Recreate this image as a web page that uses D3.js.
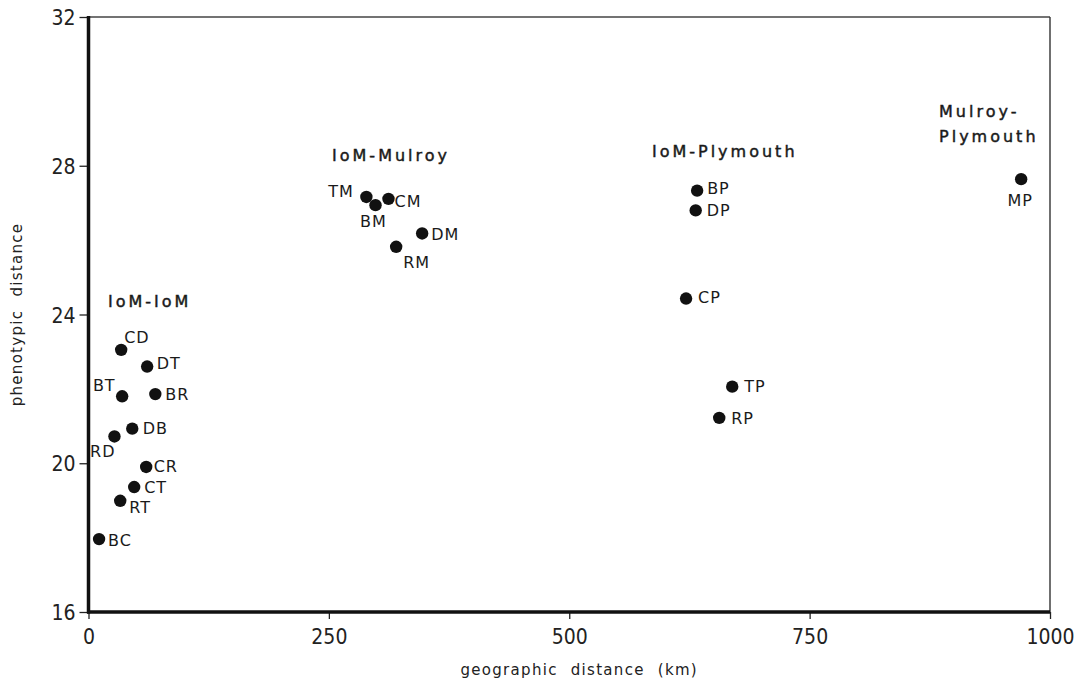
<!DOCTYPE html>
<html>
<head>
<meta charset="utf-8">
<script src="https://cdn.jsdelivr.net/npm/d3@7"></script>
<style>
  html, body { margin: 0; padding: 0; background: #fff; }
  svg { display: block; }
</style>
</head>
<body>
<svg id="chart" width="1078" height="684"></svg>
<script>
// ---- data ----
const pairNames = ["CD","DT","BT","BR","DB","RD","CR","CT","RT","BC",
                   "TM","BM","CM","DM","RM",
                   "BP","DP","CP","TP","RP",
                   "MP"];
const geoDistance = [34, 61, 35, 69.5, 45.5, 27, 60, 47.5, 33, 11,
                     289, 298.5, 312, 347, 320,
                     633, 631.5, 621.5, 669.5, 656,
                     970];
const phenoDistance = [23.05, 22.6, 21.8, 21.86, 20.93, 20.72, 19.9, 19.36, 18.99, 17.96,
                       27.16, 26.94, 27.11, 26.18, 25.82,
                       27.33, 26.8, 24.43, 22.06, 21.22,
                       27.64];
const groupLabels = ["IoM-IoM", "IoM-Mulroy", "IoM-Plymouth", "Mulroy-", "Plymouth"];
const groupLabelX = [20.3, 253.3, 586, 884.6, 884.6];
const groupLabelY = [24.2, 28.13, 28.24, 29.31, 28.64];
const xTicks = [0, 250, 500, 750, 1000];
const yTicks = [16, 20, 24, 28, 32];
const xTitle = "geographic distance (km)";
const yTitle = "phenotypic distance";

// ---- label placement (style, px offsets from the point) ----
const labelLayout = {
  CD:{dx:3,dy:-13,a:"start"}, DT:{dx:9.5,dy:-3.5,a:"start"}, BT:{dx:-6.5,dy:-11,a:"end"},
  BR:{dx:10,dy:0,a:"start"}, DB:{dx:10.5,dy:0,a:"start"}, RD:{dx:1,dy:15,a:"end"},
  CR:{dx:7.5,dy:-1,a:"start"}, CT:{dx:10,dy:0,a:"start"}, RT:{dx:9,dy:6,a:"start"},
  BC:{dx:9,dy:1,a:"start"},
  TM:{dx:-12.5,dy:-5.5,a:"end"}, BM:{dx:-2,dy:16.5,a:"middle"}, CM:{dx:6,dy:2,a:"start"},
  DM:{dx:9,dy:1,a:"start"}, RM:{dx:7,dy:15,a:"start"},
  BP:{dx:10,dy:-2.5,a:"start"}, DP:{dx:11,dy:0,a:"start"}, CP:{dx:12,dy:-1,a:"start"},
  TP:{dx:12,dy:0,a:"start"}, RP:{dx:12,dy:0,a:"start"},
  MP:{dx:-1,dy:21,a:"middle"}
};

const points = pairNames.map((n, i) => ({name: n, gx: geoDistance[i], py: phenoDistance[i]}));

const svg = d3.select("#chart");
const pLeft = 88.5, pRight = 1050, pTop = 17, pBottom = 612;
const x = d3.scaleLinear().domain([0, 1000]).range([pLeft, pRight]);
const y = d3.scaleLinear().domain([16, 32]).range([pBottom, pTop]);

const tickFont = "'Liberation Sans Narrow', 'DejaVu Sans Condensed', 'Liberation Sans', sans-serif";
const textFont = "'DejaVu Sans', Verdana, sans-serif";

// frame (thin top / right)
svg.append("line").attr("x1", pLeft).attr("x2", pRight).attr("y1", pTop).attr("y2", pTop)
  .attr("stroke", "#444").attr("stroke-width", 1.4);
svg.append("line").attr("x1", pRight).attr("x2", pRight).attr("y1", pTop).attr("y2", pBottom)
  .attr("stroke", "#333").attr("stroke-width", 1.4);

// axes
const gx = svg.append("g").attr("transform", `translate(0,${pBottom})`)
  .call(d3.axisBottom(x).tickValues(xTicks).tickFormat(d3.format("d")).tickSize(7).tickPadding(10));
const gy = svg.append("g").attr("transform", `translate(${pLeft},0)`)
  .call(d3.axisLeft(y).tickValues(yTicks).tickFormat(d3.format("d")).tickSize(9).tickPadding(4));

[gx, gy].forEach(g => {
  g.select(".domain").remove();
  g.selectAll(".tick line").attr("stroke", "#222").attr("stroke-width", 1.3);
  g.selectAll(".tick text").attr("fill", "#222")
    .style("font-family", tickFont).style("font-size", "21px");
});
gy.selectAll(".tick text").attr("dy", "0.36em");

// thick left and bottom axis lines
svg.append("line").attr("x1", pLeft).attr("x2", pLeft).attr("y1", pTop - 1).attr("y2", pBottom + 1.5)
  .attr("stroke", "#111").attr("stroke-width", 3.5);
svg.append("line").attr("x1", pLeft - 1.5).attr("x2", pRight).attr("y1", pBottom).attr("y2", pBottom)
  .attr("stroke", "#111").attr("stroke-width", 3.5);

// axis titles
svg.append("text")
  .attr("x", (pLeft + pRight) / 2 + 10).attr("y", 675)
  .attr("text-anchor", "middle")
  .style("font-family", textFont).style("font-size", "15px")
  .style("letter-spacing", "1.3px").style("word-spacing", "7px")
  .attr("fill", "#222")
  .text(xTitle);
svg.append("text")
  .attr("transform", `translate(22,${(pTop + pBottom) / 2}) rotate(-90)`)
  .attr("text-anchor", "middle")
  .style("font-family", textFont).style("font-size", "15px")
  .style("letter-spacing", "1.3px").style("word-spacing", "7px")
  .attr("fill", "#222")
  .text(yTitle);

// points
svg.append("g").selectAll("circle").data(points).join("circle")
  .attr("cx", d => x(d.gx)).attr("cy", d => y(d.py)).attr("r", 6.2)
  .attr("fill", "#111");

// point labels
svg.append("g").selectAll("text").data(points).join("text")
  .attr("x", d => x(d.gx) + labelLayout[d.name].dx)
  .attr("y", d => y(d.py) + labelLayout[d.name].dy + 5.8)
  .attr("text-anchor", d => labelLayout[d.name].a)
  .style("font-family", textFont).style("font-size", "16px")
  .style("letter-spacing", "1px")
  .attr("fill", "#1a1a1a")
  .text(d => d.name);

// group annotations
svg.append("g").selectAll("text").data(groupLabels).join("text")
  .attr("x", (d, i) => x(groupLabelX[i]))
  .attr("y", (d, i) => y(groupLabelY[i]))
  .style("font-family", textFont).style("font-size", "16px")
  .style("letter-spacing", "3px")
  .attr("fill", "#1a1a1a")
  .attr("stroke", "#1a1a1a").attr("stroke-width", 0.45)
  .text(d => d);
</script>
</body>
</html>
